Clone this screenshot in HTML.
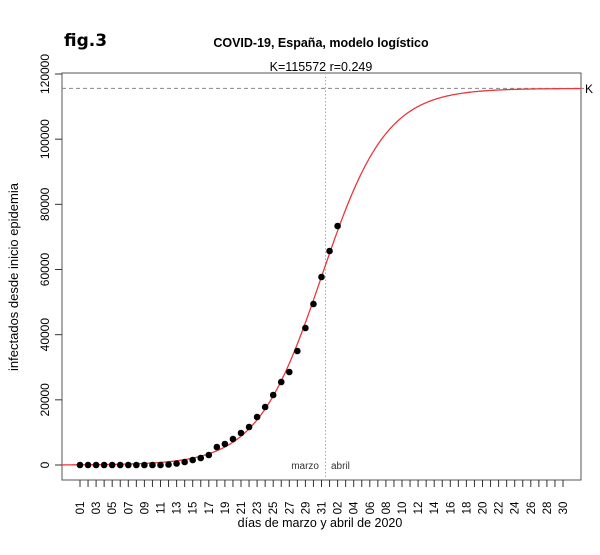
<!DOCTYPE html>
<html><head><meta charset="utf-8"><style>
body{margin:0;background:#fff;width:600px;height:555px;overflow:hidden}
svg{display:block;font-family:"Liberation Sans",Arial,sans-serif}
</style></head><body>
<svg id="s" width="600" height="555" xmlns="http://www.w3.org/2000/svg">
<text x="64" y="46" font-size="17" font-weight="bold" font-family="DejaVu Sans, sans-serif">fig.3</text>
<text x="321" y="47" font-size="12.5" font-weight="bold" text-anchor="middle">COVID-19, España, modelo logístico</text>
<text x="321" y="71" font-size="12.5" text-anchor="middle">K=115572  r=0.249</text>
<rect x="62" y="73" width="519" height="407" fill="none" stroke="#555" stroke-width="1"/>
<line x1="62" y1="88.4" x2="581" y2="88.4" stroke="#888" stroke-dasharray="4,3"/>
<line x1="581" y1="88.4" x2="584" y2="88.4" stroke="#888"/>
<text x="585" y="93" font-size="12">K</text>
<line x1="325.5" y1="73" x2="325.5" y2="480" stroke="#aaa" stroke-dasharray="1.5,2"/>
<text x="319" y="469" font-size="10" text-anchor="end" fill="#333">marzo</text>
<text x="331" y="469" font-size="10" fill="#333">abril</text>
<text x="320" y="527" font-size="12.5" text-anchor="middle">días de marzo y abril de 2020</text>
<text transform="translate(18,277) rotate(-90)" font-size="13" text-anchor="middle">infectados  desde inicio epidemia</text>
<g id="g"></g>
</svg>
<script>
var g=document.getElementById('g'),h='';
function Y(v){return 465-v*391/120000;}
for(var v=0;v<=120000;v+=20000){var y=Y(v);h+='<line x1="55" x2="62" y1="'+y+'" y2="'+y+'" stroke="#333"/>';
h+='<text transform="translate(49,'+y+') rotate(-90)" font-size="12" text-anchor="middle">'+v+'</text>';}
function X(i){return 80+(i-1)*8.05;}
for(var i=1;i<=61;i++){var x=X(i);h+='<line x1="'+x+'" x2="'+x+'" y1="480" y2="487" stroke="#333"/>';
var d=i<=31?i:i-31;if(d%2==(i<=31?1:0)){var s=(d<10?'0':'')+d;h+='<text transform="translate('+(x+4)+',508) rotate(-90)" font-size="11.5" text-anchor="middle">'+s+'</text>';}}
var p='';for(var x=62;x<=581;x+=1){var t=1+(x-80)/8.05;var v=115572/(1+Math.exp(-0.249*(t-31)));p+=(x==62?'M':'L')+x+','+Y(v).toFixed(2);}
h+='<path d="'+p+'" fill="none" stroke="#e8383d" stroke-width="1.3"/>';
var py=[465,465,465,465,465,465,465,465,465,465,465,464.5,463.5,462,460,458,455,447,444,439,433,427,417,407,395,382,372,351,328,304,277,251,226];
for(var i=0;i<py.length;i++)h+='<circle cx="'+X(i+1)+'" cy="'+py[i]+'" r="3.3" fill="#000"/>';
g.innerHTML=h;
</script>
</body></html>
